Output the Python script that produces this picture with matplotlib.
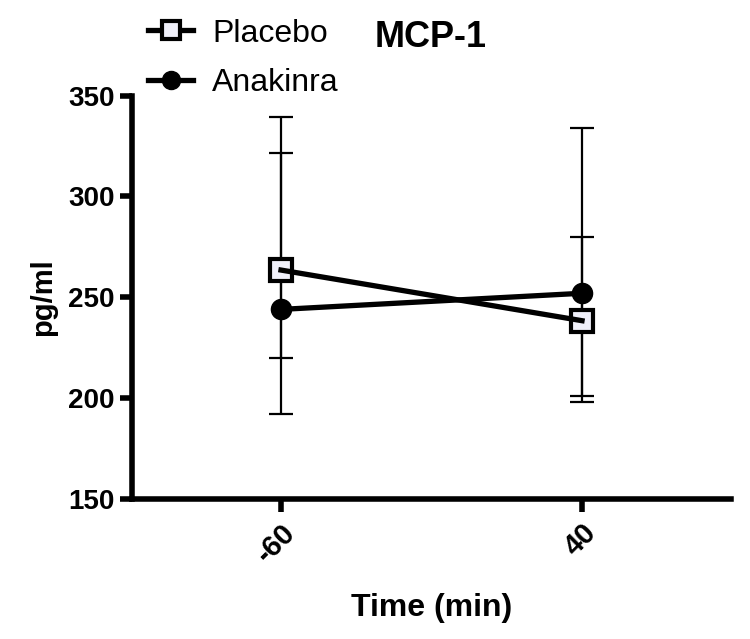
import matplotlib
matplotlib.use("Agg")
import matplotlib.pyplot as plt
import numpy as np

plt.rcParams['font.family'] = ['Liberation Sans', 'DejaVu Sans']

# data
times = [-60, 40]
tick_labels = ['-60', '40']
placebo_mean = [263.5, 238.4]
placebo_upper = [339.5, 334.0]
placebo_lower = [192.0, 198.2]
anakinra_mean = [244.0, 252.0]
anakinra_upper = [321.6, 279.7]
anakinra_lower = [219.7, 201.1]

fig = plt.figure(figsize=(7.5, 6.39), dpi=100)
ax = fig.add_axes([0.176, 0.219, 0.7987, 0.6315])

def err(mean, lo, hi):
    m = np.array(mean)
    return [m - np.array(lo), np.array(hi) - m]

ax.errorbar(times, placebo_mean, yerr=err(placebo_mean, placebo_lower, placebo_upper),
            fmt='none', ecolor='black', elinewidth=1.6, capsize=8.5, capthick=1.6, zorder=2)
ax.errorbar(times, anakinra_mean, yerr=err(anakinra_mean, anakinra_lower, anakinra_upper),
            fmt='none', ecolor='black', elinewidth=1.6, capsize=8.5, capthick=1.6, zorder=2)

# markers under the lines, like the original
ax.plot(times, placebo_mean, ls='none', marker='s', ms=15.5, mfc='#f0f0fa', mec='black',
        mew=3, zorder=3)
ax.plot(times, anakinra_mean, ls='none', marker='o', ms=14.5, mfc='black', mec='black', zorder=3)
ax.plot(times, placebo_mean, color='black', lw=3.8, zorder=4)
ax.plot(times, anakinra_mean, color='black', lw=3.8, zorder=4)

# legend handles
h1, = ax.plot([], [], color='black', lw=3.8, marker='s', ms=13, mfc='#f0f0fa', mec='black', mew=3,
              label='Placebo')
h2, = ax.plot([], [], color='black', lw=3.8, marker='o', ms=13, mfc='black', mec='black',
              label='Anakinra')
fig.legend(handles=[h1, h2], loc='upper left', bbox_to_anchor=(0.168, 1.006), frameon=False,
           fontsize=23, handlelength=1.4, handletextpad=0.6, labelspacing=0.6,
           borderpad=0.2)

ax.set_xlim(-109.5, 89.5)
ax.set_ylim(150, 350)
ax.set_yticks([150, 200, 250, 300, 350])
ax.set_xticks(times)
ax.set_xticklabels(tick_labels)

for s in ['top', 'right']:
    ax.spines[s].set_visible(False)
for s in ['left', 'bottom']:
    ax.spines[s].set_linewidth(4)

ax.tick_params(axis='y', width=4, length=9, labelsize=20)
ax.tick_params(axis='x', width=4, length=9, labelsize=21, pad=5)
for lab in ax.get_yticklabels():
    lab.set_fontweight('bold')
for lab in ax.get_xticklabels():
    lab.set_fontweight('bold')
    lab.set_rotation(45)
    lab.set_ha('right')
    lab.set_rotation_mode('anchor')

ax.set_ylabel('pg/ml', fontsize=21, fontweight='bold', labelpad=8)
ax.set_xlabel('Time (min)', fontsize=23, fontweight='bold', labelpad=18)
fig.text(0.574, 0.942, 'MCP-1', fontsize=26, fontweight='bold', ha='center', va='center')

fig.savefig('out.png', dpi=100)
